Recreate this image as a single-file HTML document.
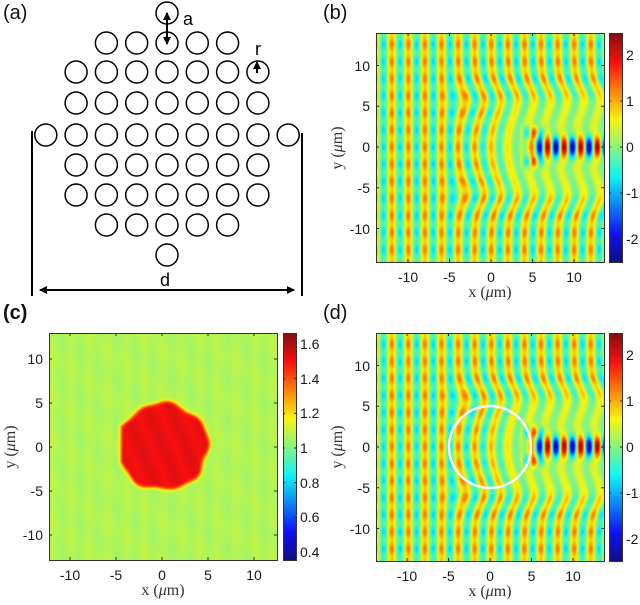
<!DOCTYPE html>
<html><head><meta charset="utf-8">
<style>
body{margin:0;width:640px;height:605px;background:#fff;position:relative;overflow:hidden;font-family:"Liberation Sans",sans-serif;}
canvas{position:absolute;}
.t{position:absolute;font-size:14px;color:#1a1a1a;line-height:14px;white-space:nowrap;}
.tx{transform:translateX(-50%);}
.ty{transform:translate(-100%,-50%);}
.tc{transform:translateY(-50%);}
.lab{position:absolute;font-size:20px;color:#111;}
.ax{position:absolute;font-family:"Liberation Serif",serif;font-size:16px;color:#333;white-space:nowrap;}
</style></head><body>
<svg style="position:absolute;left:0;top:0" width="320" height="300">
<defs><marker id="ah" markerWidth="8" markerHeight="8" refX="7" refY="4" orient="auto" markerUnits="userSpaceOnUse"><path d="M0,0 L8,4 L0,8 z" fill="#000"/></marker></defs>
<g fill="none" stroke="#000" stroke-width="1.5" id="circ"></g>
<line x1="32" y1="131" x2="32" y2="296" stroke="#000" stroke-width="2"/>
<line x1="302" y1="133" x2="302" y2="296" stroke="#000" stroke-width="2"/>
<line x1="40" y1="290" x2="294" y2="290" stroke="#000" stroke-width="2" marker-end="url(#ah)"/>
<line x1="294" y1="290" x2="40" y2="290" stroke="#000" stroke-width="2" marker-end="url(#ah)"/>
<line x1="167" y1="22" x2="167" y2="13" stroke="#000" stroke-width="2" marker-end="url(#ah)"/>
<line x1="167" y1="18" x2="167" y2="44" stroke="#000" stroke-width="2" marker-end="url(#ah)"/>
<line x1="257" y1="73" x2="257" y2="62" stroke="#000" stroke-width="2" marker-end="url(#ah)"/>
<text x="183" y="25" font-size="18" font-family="Liberation Sans">a</text>
<text x="255" y="55" font-size="18" font-family="Liberation Sans">r</text>
<text x="160" y="286" font-size="18" font-family="Liberation Sans">d</text>
</svg>
<div class="lab" style="left:3px;top:2px">(a)</div>
<div class="lab" style="left:323px;top:2px">(b)</div>
<div class="lab" style="left:3px;top:302px;font-weight:bold">(c)</div>
<div class="lab" style="left:323px;top:302px">(d)</div>

<canvas id="cb" width="228" height="229" style="left:376px;top:33px"></canvas>
<canvas id="cc" width="228" height="227" style="left:49px;top:333px"></canvas>
<canvas id="cd" width="228" height="228" style="left:376px;top:333px"></canvas>
<canvas id="bar1" width="13" height="229" style="left:609px;top:33px"></canvas>
<canvas id="bar2" width="13" height="227" style="left:283px;top:333px"></canvas>
<canvas id="bar3" width="13" height="228" style="left:609px;top:333px"></canvas>
<svg id="ov" style="position:absolute;left:0;top:0" width="640" height="605"></svg>
<div id="txt"></div>
<script>
(function(){
 var g=document.getElementById('circ'),s='';
 function c(x,y){s+='<circle cx="'+x+'" cy="'+y+'" r="11"/>';}
 c(167,13);c(167,255);
 var rows=[[43,5],[72,7],[103,7],[135,9],[165,7],[195,7],[225,5]];
 rows.forEach(function(r){var n=r[1];for(var i=0;i<n;i++){c(167+(i-(n-1)/2)*30.3,r[0]);}});
 g.innerHTML=s;
})();
function jet(t){t=Math.max(0,Math.min(1,t));
 function f(v){return Math.max(0,Math.min(1,1.5-Math.abs(v)));}
 return [f(4*t-3)*255,f(4*t-2)*255,f(4*t-1)*255];}
function sig(v){return 1/(1+Math.exp(-v));}
function field(x,y){
 var k=Math.PI;
 var ws=5.5+0.08*Math.max(x,0);
 var mx=sig((x-1.0)/1.2);
 var my=sig(-(Math.abs(y)-ws)/0.8);
 var m=mx*my;
 var cw=sig(-(Math.abs(y)-6.5)/0.8)*sig((x+4)/0.8);
 var cur=0.05*y*y*cw;
 var ph=k*(x-cur);
 var bead=0.82+0.22*Math.cos(Math.PI*y/1.05);
 var base=0.25+Math.cos(ph)*(1-0.75*m)*(bead*(1-m)+m);
 var fa=(x>3.5?Math.min(1,(x-3.5)/2.5):0);
 var beam=0;
 if(x>3.5){beam=2.4*fa*Math.exp(-y*y/1.8)*Math.cos(k*(x-0.8));
  var sl=Math.exp(-((x-5)*(x-5))/2)*Math.exp(-((Math.abs(y)-1.8)*(Math.abs(y)-1.8))/0.6);
  beam+=-1.6*sl*Math.cos(k*(x-0.5)+Math.PI*0.3);}
 return base*(1-0.9*Math.exp(-y*y/1.8)*fa)+beam;
}
function draw(id,x0,x1,y0,y1,fn,vmin,vmax){
 var c=document.getElementById(id),ctx=c.getContext('2d'),W=c.width,H=c.height;
 var im=ctx.createImageData(W,H);
 for(var j=0;j<H;j++)for(var i=0;i<W;i++){
  var x=x0+(x1-x0)*(i+0.5)/W,y=y1-(y1-y0)*(j+0.5)/H;
  var v=fn(x,y),col=jet((v-vmin)/(vmax-vmin)),p=4*(j*W+i);
  im.data[p]=col[0]*0.92+15;im.data[p+1]=col[1]*0.9+15;im.data[p+2]=col[2]*0.9+15;im.data[p+3]=255;}
 ctx.putImageData(im,0,0);
}
function bar(id){var c=document.getElementById(id),ctx=c.getContext('2d'),H=c.height;
 for(var j=0;j<H;j++){var col=jet(1-j/H);ctx.fillStyle='rgb('+(col[0]*0.92+15|0)+','+(col[1]*0.9+15|0)+','+(col[2]*0.9+15|0)+')';ctx.fillRect(0,j,13,1);}}
draw('cb',-13.9,13.6,-14.1,14,field,-2.47,2.47);
draw('cd',-13.9,13.6,-14.1,14,field,-2.47,2.47);
draw('cc',-12.4,12.4,-12.9,12.9,function(x,y){
 var r=Math.sqrt(x*x+y*y),ang=Math.atan2(y,x);
 var R=4.95+0.15*Math.sin(5*ang)+0.12*Math.cos(9*ang);
 if(x<-4.3)R=Math.min(R,4.6/Math.max(0.3,Math.abs(Math.cos(ang))));
 var inside=1/(1+Math.exp((r-R)/0.12));
 var bg=1.07+0.012*Math.cos(Math.PI*x)+0.008*Math.sin(1.3*y+x);
 return bg*(1-inside)+inside*(1.52+0.015*Math.cos(2.5*x+y));},0.352,1.664);
bar('bar1');bar('bar2');bar('bar3');
var ov=document.getElementById('ov'),s='',t='';
function frame(l,tp,w,h){s+='<rect x="'+(l+0.5)+'" y="'+(tp+0.5)+'" width="'+w+'" height="'+h+'" fill="none" stroke="#333" stroke-width="1"/>';}
function axes(l,tp,w,h,x0,sx,y0,sy,xt,yt){
 frame(l,tp,w,h);
 xt.forEach(function(v){var px=x0+sx*v;s+='<line x1="'+px+'" y1="'+(tp+h)+'" x2="'+px+'" y2="'+(tp+h-3)+'" stroke="#333"/><line x1="'+px+'" y1="'+tp+'" x2="'+px+'" y2="'+(tp+3)+'" stroke="#333"/>';
  t+='<div class="t tx" style="left:'+px+'px;top:'+(tp+h+8)+'px">'+v+'</div>';});
 yt.forEach(function(v){var py=y0-sy*v;s+='<line x1="'+l+'" y1="'+py+'" x2="'+(l+3)+'" y2="'+py+'" stroke="#333"/><line x1="'+(l+w)+'" y1="'+py+'" x2="'+(l+w-3)+'" y2="'+py+'" stroke="#333"/>';
  t+='<div class="t ty" style="left:'+(l-6)+'px;top:'+py+'px">'+v+'</div>';});
 t+='<div class="ax tx" style="left:'+(l+w/2)+'px;top:'+(tp+h+22)+'px">x (<i>μ</i>m)</div>';
 t+='<div class="ax" style="left:'+(l-38)+'px;top:'+(tp+h/2)+'px;transform:translate(-50%,-50%) rotate(-90deg)">y (<i>μ</i>m)</div>';
}
function cbar(l,tp,w,h,vals,ref,y0,sy){frame(l,tp,w,h);
 vals.forEach(function(v){var py=y0-sy*(v-ref);s+='<line x1="'+l+'" y1="'+py+'" x2="'+(l+2)+'" y2="'+py+'" stroke="#333"/><line x1="'+(l+w)+'" y1="'+py+'" x2="'+(l+w-2)+'" y2="'+py+'" stroke="#333"/>';
  t+='<div class="t tc" style="left:'+(l+w+4)+'px;top:'+py+'px">'+v+'</div>';});}
var xt=[-10,-5,0,5,10],yt=[10,5,0,-5,-10];
axes(376,33,228,229,491,8.3,147,8.15,xt,yt);
axes(376,333,228,228,490,8.3,447,8.15,xt,yt);
axes(49,333,228,227,162,9.2,447,8.8,xt,yt);
cbar(609,33,13,229,[2,1,0,-1,-2],0,147,46);
cbar(609,333,13,228,[2,1,0,-1,-2],0,447,46);
cbar(283,333,13,227,['1.6','1.4','1.2','1','0.8','0.6','0.4'].map(Number),1,448,173.3);
s+='<circle cx="490" cy="447" r="41" fill="none" stroke="#fff" stroke-width="2.5"/>';
ov.innerHTML=s;document.getElementById('txt').innerHTML=t;
</script>
</body></html>
